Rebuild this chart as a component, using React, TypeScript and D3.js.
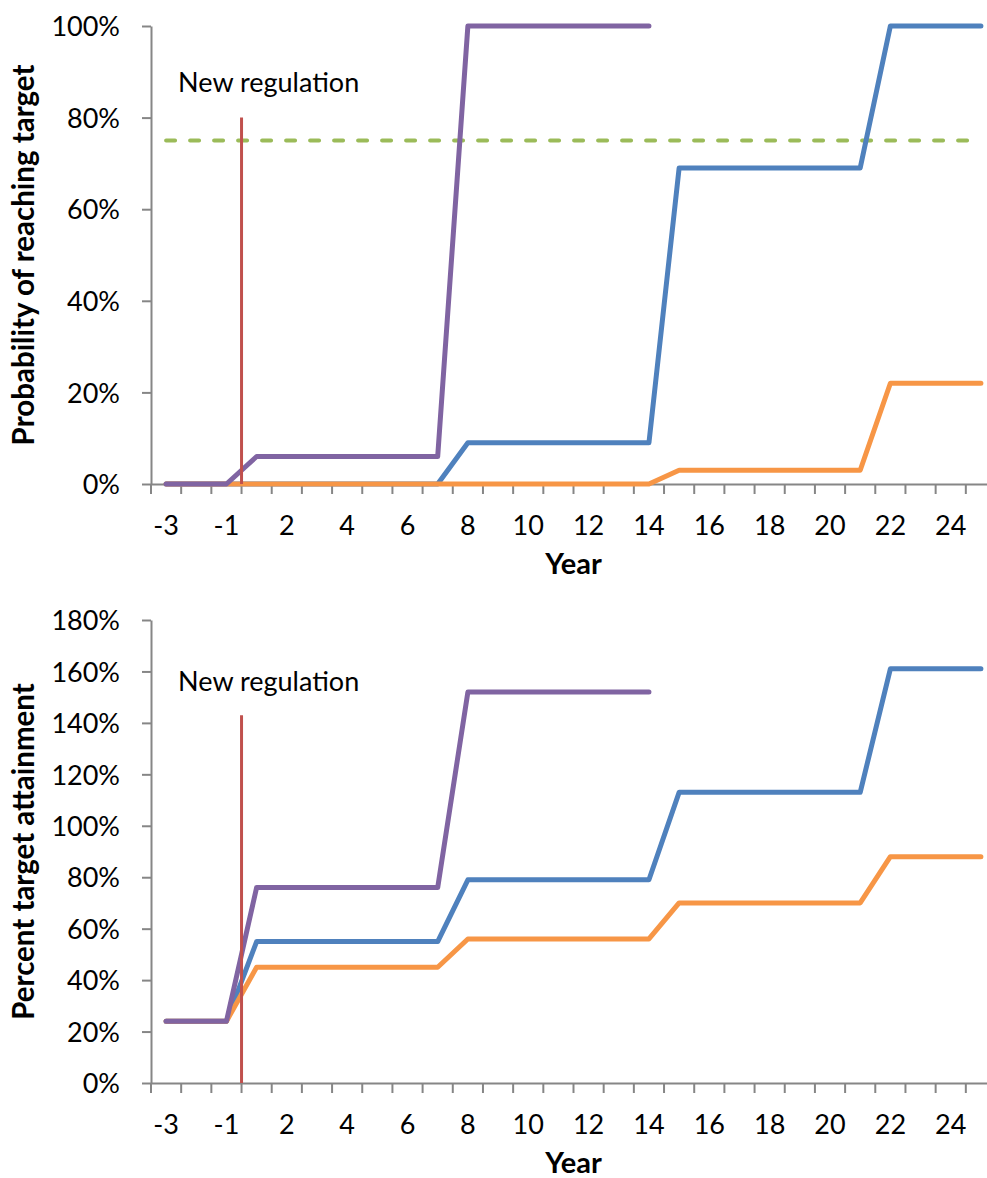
import { useEffect, useRef } from 'react';
import * as d3 from 'd3';

// category axis (there is no year 0)
const years = ['-3', '-2', '-1', '1', '2', '3', '4', '5', '6', '7', '8', '9', '10', '11', '12', '13', '14',
  '15', '16', '17', '18', '19', '20', '21', '22', '23', '24', '25'];

// top chart: probability of reaching target (%)
const probPurple = [0, 0, 0, 6, 6, 6, 6, 6, 6, 6, 100, 100, 100, 100, 100, 100, 100,
  null, null, null, null, null, null, null, null, null, null, null];
const probBlue = [0, 0, 0, 0, 0, 0, 0, 0, 0, 0, 9, 9, 9, 9, 9, 9, 9,
  69, 69, 69, 69, 69, 69, 69, 100, 100, 100, 100];
const probOrange = [0, 0, 0, 0, 0, 0, 0, 0, 0, 0, 0, 0, 0, 0, 0, 0, 0,
  3, 3, 3, 3, 3, 3, 3, 22, 22, 22, 22];

// bottom chart: percent target attainment (%)
const attPurple = [24, 24, 24, 76, 76, 76, 76, 76, 76, 76, 152, 152, 152, 152, 152, 152, 152,
  null, null, null, null, null, null, null, null, null, null, null];
const attBlue = [24, 24, 24, 55, 55, 55, 55, 55, 55, 55, 79, 79, 79, 79, 79, 79, 79,
  113, 113, 113, 113, 113, 113, 113, 161, 161, 161, 161];
const attOrange = [24, 24, 24, 45, 45, 45, 45, 45, 45, 45, 56, 56, 56, 56, 56, 56, 56,
  70, 70, 70, 70, 70, 70, 70, 88, 88, 88, 88];

const probTicks = [0, 20, 40, 60, 80, 100];
const attTicks = [0, 20, 40, 60, 80, 100, 120, 140, 160, 180];

const targetLevel = 75; // dashed target line, top chart
const regulationAfter = '-1'; // new regulation starts after this category
const regulationTop = [80, 143]; // height of the regulation marker in each chart
const regulationLabelY = [85.5, 152.5];

const COLORS = {
  blue: '#4F81BD',
  orange: '#F79646',
  purple: '#8064A2',
  green: '#9BBB59',
  red: '#C0504D',
  axis: '#868686',
};
const FONT = 'Lato, "Open Sans", sans-serif';

export default function App() {
  const ref = useRef<SVGSVGElement | null>(null);

  useEffect(() => {
    if (!ref.current) return;
    const svg = d3.select(ref.current);
    svg.selectAll('*').remove();

    const width = 987;
    const height = 1178;
    svg.attr('width', width).attr('height', height);

    const left = 151;
    const right = 996;
    const x = d3.scaleBand<string>().domain(years).range([left, right]).padding(0);
    const cx = (d: string) => x(d)! + x.bandwidth() / 2;

    const panels = [
      {
        top: 26, bottom: 484, max: 100, ticks: probTicks,
        title: 'Probability of reaching target',
        series: [
          { values: probBlue, color: COLORS.blue },
          { values: probOrange, color: COLORS.orange },
          { values: probPurple, color: COLORS.purple },
        ],
        target: targetLevel,
        regTop: regulationTop[0],
        labelY: regulationLabelY[0],
      },
      {
        top: 620, bottom: 1083, max: 180, ticks: attTicks,
        title: 'Percent target attainment',
        series: [
          { values: attBlue, color: COLORS.blue },
          { values: attOrange, color: COLORS.orange },
          { values: attPurple, color: COLORS.purple },
        ],
        target: null,
        regTop: regulationTop[1],
        labelY: regulationLabelY[1],
      },
    ];

    panels.forEach((p) => {
      const y = d3.scaleLinear().domain([0, p.max]).range([p.bottom, p.top]);
      const g = svg.append('g').attr('font-family', FONT);

      // y axis
      const yAxis = g.append('g')
        .attr('transform', `translate(${left},0)`)
        .call(d3.axisLeft(y).tickValues(p.ticks).tickSize(9).tickSizeOuter(0).tickPadding(22)
          .tickFormat((d) => `${d}%`));
      yAxis.attr('font-family', FONT).attr('font-size', 27);
      yAxis.select('.domain').attr('stroke', COLORS.axis).attr('stroke-width', 2);
      yAxis.selectAll('.tick line').attr('stroke', COLORS.axis).attr('stroke-width', 2);
      yAxis.selectAll('.tick text').attr('fill', '#000').attr('dy', '0.36em');

      // x axis: labels on every other category, ticks on band edges
      const xAxis = g.append('g')
        .attr('transform', `translate(0,${p.bottom})`)
        .call(d3.axisBottom(x).tickValues(years.filter((_, i) => i % 2 === 0)).tickSize(0).tickSizeOuter(0));
      xAxis.attr('font-family', FONT).attr('font-size', 27);
      xAxis.select('.domain').attr('stroke', COLORS.axis).attr('stroke-width', 2);
      xAxis.selectAll('.tick text').attr('fill', '#000').attr('y', 51).attr('dy', 0);
      const edges = [...years.map((d) => x(d)!), right];
      xAxis.selectAll('line.edge').data(edges).enter().append('line')
        .attr('class', 'edge')
        .attr('x1', (d) => d).attr('x2', (d) => d)
        .attr('y1', 0).attr('y2', 10)
        .attr('stroke', COLORS.axis).attr('stroke-width', 2);

      // titles
      g.append('text')
        .attr('transform', `translate(34,${(p.top + p.bottom) / 2}) rotate(-90)`)
        .attr('text-anchor', 'middle')
        .attr('font-size', 29.5).attr('font-weight', 'bold')
        .text(p.title);
      g.append('text')
        .attr('x', (left + right) / 2).attr('y', p.bottom + 90)
        .attr('text-anchor', 'middle')
        .attr('font-size', 29).attr('font-weight', 'bold')
        .text('Year');

      // target line
      if (p.target != null) {
        g.append('line')
          .attr('x1', cx(years[0])).attr('x2', cx(years[years.length - 1]))
          .attr('y1', y(p.target)).attr('y2', y(p.target))
          .attr('stroke', COLORS.green).attr('stroke-width', 4)
          .attr('stroke-dasharray', '9 15').attr('stroke-linecap', 'round');
      }

      // series
      const line = d3.line<number | null>()
        .defined((d) => d != null)
        .x((_, i) => cx(years[i]))
        .y((d) => y(d as number));
      p.series.forEach((s) => {
        g.append('path')
          .attr('d', line(s.values))
          .attr('fill', 'none')
          .attr('stroke', s.color)
          .attr('stroke-width', 5)
          .attr('stroke-linejoin', 'round')
          .attr('stroke-linecap', 'round');
      });

      // new regulation marker
      const rx = x(regulationAfter)! + x.bandwidth();
      g.append('line')
        .attr('x1', rx).attr('x2', rx)
        .attr('y1', y(p.regTop)).attr('y2', y(0))
        .attr('stroke', COLORS.red).attr('stroke-width', 3);
      g.append('text')
        .attr('x', cx(years[0]) + 12).attr('y', y(p.labelY))
        .attr('font-size', 27)
        .text('New regulation');
    });
  }, []);

  return (
    <div style={{ position: 'absolute', left: 0, top: 0 }}>
      <svg ref={ref} style={{ display: 'block' }}></svg>
    </div>
  );
}
